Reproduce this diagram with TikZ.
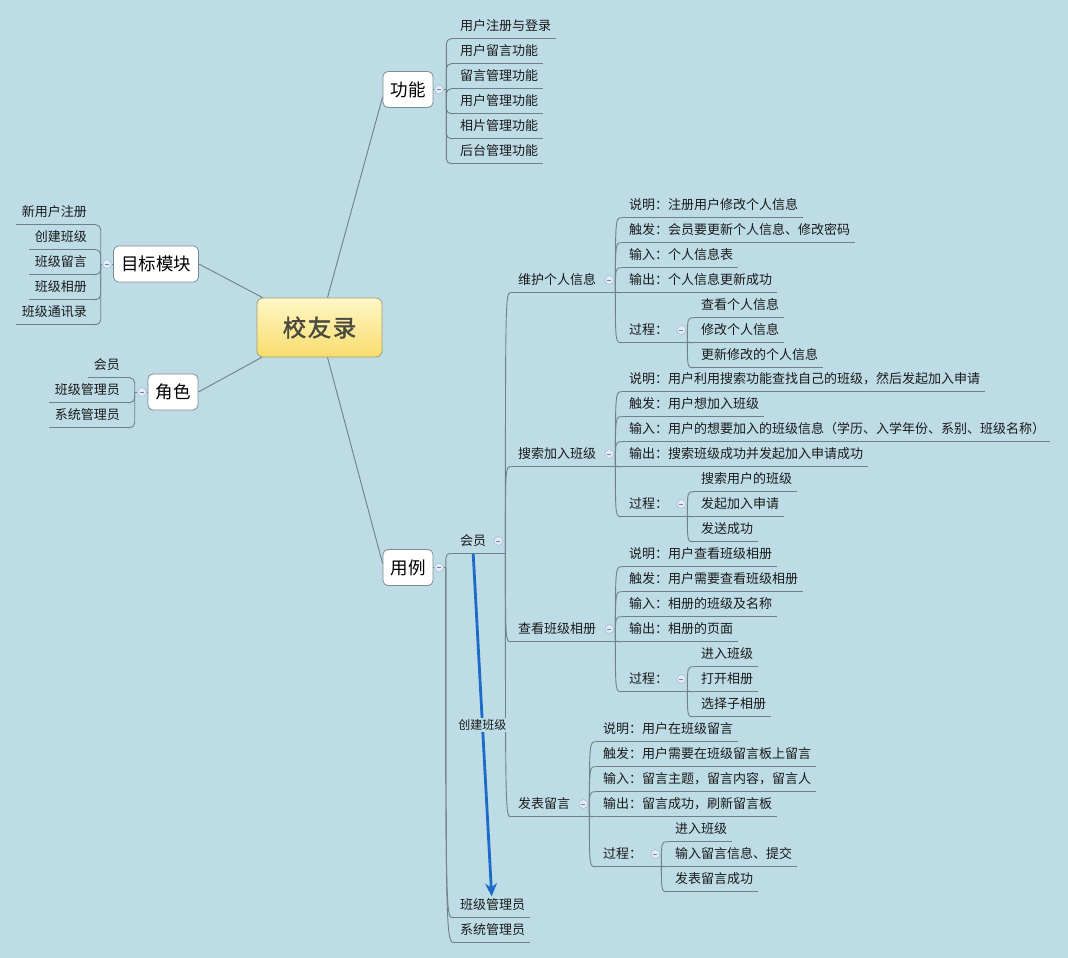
\documentclass[tikz,border=0pt]{standalone}
\usepackage{fontspec}
\setmainfont{Noto Sans CJK SC}
\newfontfamily\cjkb[FakeBold=1.6]{Noto Sans CJK SC}
\usetikzlibrary{arrows.meta}
\definecolor{bg}{HTML}{BDDCE5}
\definecolor{lc}{HTML}{6F8088}
\definecolor{tx}{HTML}{1A1A1A}
\definecolor{bx}{HTML}{7D8C92}
\definecolor{dotf}{HTML}{E2EAF6}
\definecolor{dotd}{HTML}{A6BEDB}
\definecolor{arr}{HTML}{1C6BC8}
\definecolor{rtop}{HTML}{FFF7C6}
\definecolor{rbot}{HTML}{F8DD6E}
\definecolor{rbd}{HTML}{A39C72}
\definecolor{rtx}{HTML}{4A4A3E}
\newcommand\dotdash{\textcolor{dotd!70!black}{\rule{4pt}{0.8pt}}}
\tikzset{
  lk/.style={draw=lc, line width=0.9pt},
  leafbase/.style={inner xsep=0pt, inner ysep=0pt, minimum height=25pt,
    text height=10.8pt, text depth=0.9pt, text=tx,
    font=\fontsize{13}{15}\selectfont,
    append after command={(\tikzlastnode.south west) edge[lk] (\tikzlastnode.south east)}},
  rleaf/.style={leafbase, anchor=west, execute at begin node={\hspace*{#1}}, execute at end node={\hspace*{5pt}}},
  rleaf/.default=7pt,
  rpar/.style={leafbase, anchor=west, execute at begin node={\hspace*{#1}}, execute at end node={\hspace*{19pt}}},
  rpar/.default=7pt,
  lleaf/.style={leafbase, anchor=east, execute at begin node={\hspace*{6pt}}, execute at end node={\hspace*{#1}}},
  lleaf/.default=9pt,
  topic/.style={draw=bx, fill=white, rounded corners=5pt, line width=0.8pt,
    minimum height=36pt, inner xsep=7.5pt, inner ysep=0pt,
    text height=15pt, text depth=1.2pt, font=\fontsize{17.5}{20}\selectfont, text=black},
  rootn/.style={draw=rbd, line width=0.8pt, rounded corners=6pt, top color=rtop, bottom color=rbot,
    minimum width=125pt, minimum height=59pt, inner sep=0pt,
    font=\cjkb\fontsize{23.5}{26}\selectfont, text=rtx},
  dotn/.style={circle, minimum size=9pt, inner sep=0pt, fill=dotf, draw=dotd, line width=0.6pt},
  relarrow/.style={draw=arr, line width=2.8pt, -{Stealth[length=13pt,width=12pt]}},
  rellabel/.style={fill=bg, inner sep=1.5pt, font=\fontsize{12}{14}\selectfont, text=tx},
  curv/.style={lk}
}
\newcommand\curvto[2]{\draw[curv] (#1) .. controls (#1 |- #2.south west) .. (#2.south west);}
\begin{document}
\begin{tikzpicture}[x=1pt,y=-1pt]
\path[use as bounding box, fill=bg] (0,0) rectangle (1068,958);

% ---------- root and main topics
\node[rootn] (root) at (319.5,327.5) {校\hspace{1.5pt}友\hspace{1.5pt}录};
\node[topic] (gn) at (408,89.5) {功能};
\node[topic] (mb) at (156,264) {目标模块};
\node[topic] (js) at (173,392) {角色};
\node[topic] (yl) at (408,567.5) {用例};

\draw[lk] ([xshift=8pt]root.north) -- ([yshift=-7.5pt]gn.west);
\draw[lk] ([xshift=8pt]root.south) -- ([yshift=4pt]yl.west);
\draw[lk] ([xshift=6pt]root.north west) -- (mb.east);
\draw[lk] ([xshift=5pt]root.south west) -- (js.east);

% ---------- 功能
\node[dotn] (dg) at (439,89.5) {\dotdash};
\draw[lk] (gn.east) -- (dg.west);
\draw[lk] (dg.east) -- ++(2.5,0) coordinate (sg);
\node[rleaf=9pt] (g1) at (451,26) {用户注册与登录};
\node[rleaf=9pt] (g2) at (451,51) {用户留言功能};
\node[rleaf=9pt] (g3) at (451,76) {留言管理功能};
\node[rleaf=9pt] (g4) at (451,101) {用户管理功能};
\node[rleaf=9pt] (g5) at (451,126) {相片管理功能};
\node[rleaf=9pt] (g6) at (451,151) {后台管理功能};
\foreach \n in {g1,g2,g3,g4,g5,g6} {\draw[lk, rounded corners=5pt] (sg) |- (\n.south west);}

% ---------- 目标模块
\node[dotn] (dm) at (107,264) {\dotdash};
\draw[lk] (mb.west) -- (dm.east);
\draw[lk] (dm.west) -- ++(-1.5,0) coordinate (sm);
\node[lleaf] (m1) at (96,212) {新用户注册};
\node[lleaf] (m2) at (96,237) {创建班级};
\node[lleaf] (m3) at (96,262) {班级留言};
\node[lleaf] (m4) at (96,287) {班级相册};
\node[lleaf] (m5) at (96,312) {班级通讯录};
\foreach \n in {m1,m2,m3,m4,m5} {\draw[lk, rounded corners=5pt] (sm) |- (\n.south east);}

% ---------- 角色
\node[dotn] (dj) at (142,392) {\dotdash};
\draw[lk] (js.west) -- (dj.east);
\draw[lk] (dj.west) -- ++(-2.5,0) coordinate (sj);
\node[lleaf=10pt] (j1) at (130,365) {会员};
\node[lleaf=10pt] (j2) at (130,390) {班级管理员};
\node[lleaf=10pt] (j3) at (130,415) {系统管理员};
\foreach \n in {j1,j2,j3} {\draw[lk, rounded corners=5pt] (sj) |- (\n.south east);}

% ---------- 用例
\node[dotn] (dy) at (439,567.5) {\dotdash};
\draw[lk] (yl.east) -- (dy.west);
\draw[lk] (dy.east) -- ++(2,0) coordinate (jy);
\node[rpar=8pt] (hy) at (452,541) {会员};
\node[rleaf] (bm) at (453,905) {班级管理员};
\node[rleaf=5pt] (xt) at (455,930) {系统管理员};
\curvto{jy}{hy}
\curvto{jy}{bm}
\curvto{jy}{xt}
\node[dotn] (dhy) at ([xshift=-7pt]hy.east) {\dotdash};
\coordinate (jhy) at ([yshift=2pt]hy.south east);

% ---------- 会员 children
\node[rpar] (w) at (511,280) {维护个人信息};
\node[rpar] (s) at (511,454) {搜索加入班级};
\node[rpar] (c) at (511,629) {查看班级相册};
\node[rpar] (f) at (511,804) {发表留言};
\foreach \n in {w,s,c,f} {\curvto{jhy}{\n}}

% ---- 维护个人信息
\node[dotn] (dw) at ([xshift=-6pt]w.east) {\dotdash};
\coordinate (jw) at ([yshift=2pt]w.south east);
\node[rleaf] (w1) at (622,205) {说明：注册用户修改个人信息};
\node[rleaf] (w2) at (622,230) {触发：会员要更新个人信息、修改密码};
\node[rleaf] (w3) at (622,255) {输入：个人信息表};
\node[rleaf] (w4) at (622,280) {输出：个人信息更新成功};
\node[rpar] (wp) at (622,330) {过程：};
\foreach \n in {w1,w2,w3,w4,wp} {\curvto{jw}{\n}}
\node[dotn] (dwp) at ([xshift=-6pt]wp.east) {\dotdash};
\coordinate (jwp) at ([yshift=2pt]wp.south east);
\node[rleaf] (wp1) at (694,305) {查看个人信息};
\node[rleaf] (wp2) at (694,330) {修改个人信息};
\node[rleaf] (wp3) at (694,355) {更新修改的个人信息};
\foreach \n in {wp1,wp2,wp3} {\curvto{jwp}{\n}}

% ---- 搜索加入班级
\node[dotn] (ds) at ([xshift=-6pt]s.east) {\dotdash};
\coordinate (js2) at ([yshift=2pt]s.south east);
\node[rleaf] (s1) at (622,379) {说明：用户利用搜索功能查找自己的班级，然后发起加入申请};
\node[rleaf] (s2) at (622,404) {触发：用户想加入班级};
\node[rleaf] (s3) at (622,429) {输入：用户的想要加入的班级信息（学历、入学年份、系别、班级名称）};
\node[rleaf] (s4) at (622,454) {输出：搜索班级成功并发起加入申请成功};
\node[rpar] (sp) at (622,504) {过程：};
\foreach \n in {s1,s2,s3,s4,sp} {\curvto{js2}{\n}}
\node[dotn] (dsp) at ([xshift=-6pt]sp.east) {\dotdash};
\coordinate (jsp) at ([yshift=2pt]sp.south east);
\node[rleaf] (sp1) at (694,479) {搜索用户的班级};
\node[rleaf] (sp2) at (694,504) {发起加入申请};
\node[rleaf] (sp3) at (694,529) {发送成功};
\foreach \n in {sp1,sp2,sp3} {\curvto{jsp}{\n}}

% ---- 查看班级相册
\node[dotn] (dc) at ([xshift=-6pt]c.east) {\dotdash};
\coordinate (jc) at ([yshift=2pt]c.south east);
\node[rleaf] (c1) at (622,554) {说明：用户查看班级相册};
\node[rleaf] (c2) at (622,579) {触发：用户需要查看班级相册};
\node[rleaf] (c3) at (622,604) {输入：相册的班级及名称};
\node[rleaf] (c4) at (622,629) {输出：相册的页面};
\node[rpar] (cp) at (622,679) {过程：};
\foreach \n in {c1,c2,c3,c4,cp} {\curvto{jc}{\n}}
\node[dotn] (dcp) at ([xshift=-6pt]cp.east) {\dotdash};
\coordinate (jcp) at ([yshift=2pt]cp.south east);
\node[rleaf] (cp1) at (694,654) {进入班级};
\node[rleaf] (cp2) at (694,679) {打开相册};
\node[rleaf] (cp3) at (694,704) {选择子相册};
\foreach \n in {cp1,cp2,cp3} {\curvto{jcp}{\n}}

% ---- 发表留言
\node[dotn] (df) at ([xshift=-6pt]f.east) {\dotdash};
\coordinate (jf) at ([yshift=2pt]f.south east);
\node[rleaf] (f1) at (596,729) {说明：用户在班级留言};
\node[rleaf] (f2) at (596,754) {触发：用户需要在班级留言板上留言};
\node[rleaf] (f3) at (596,779) {输入：留言主题，留言内容，留言人};
\node[rleaf] (f4) at (596,804) {输出：留言成功，刷新留言板};
\node[rpar] (fp) at (596,854) {过程：};
\foreach \n in {f1,f2,f3,f4,fp} {\curvto{jf}{\n}}
\node[dotn] (dfp) at ([xshift=-6pt]fp.east) {\dotdash};
\coordinate (jfp) at ([yshift=2pt]fp.south east);
\node[rleaf] (fp1) at (668,829) {进入班级};
\node[rleaf] (fp2) at (668,854) {输入留言信息、提交};
\node[rleaf] (fp3) at (668,879) {发表留言成功};
\foreach \n in {fp1,fp2,fp3} {\curvto{jfp}{\n}}

% ---------- relationship arrow
\draw[relarrow] ([xshift=-5.5pt]hy.south) -- node[rellabel] {创建班级} ([yshift=-4pt]bm.north);
\end{tikzpicture}
\end{document}
